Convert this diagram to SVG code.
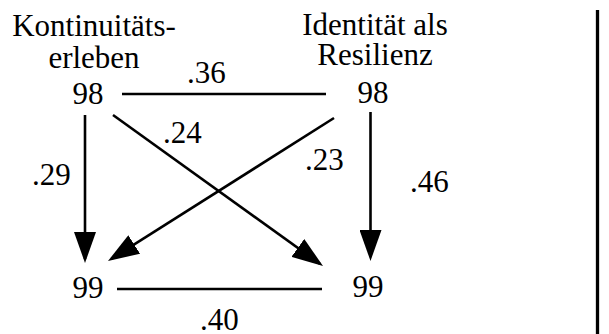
<svg xmlns="http://www.w3.org/2000/svg" width="609" height="334" viewBox="0 0 609 334">
<defs>
<marker id="ah" markerUnits="userSpaceOnUse" markerWidth="32" markerHeight="22" refX="27" refY="11" orient="auto" viewBox="0 0 32 22">
<path d="M0,0 L31,11 L0,22 z" fill="#000"/>
</marker>
</defs>
<rect width="609" height="334" fill="#fff"/>
<g id="node-kontinuitaet">
<text x="94" y="36" font-size="31" font-family="Liberation Serif" text-anchor="middle">Kontinuitäts-</text>
<text x="94" y="68" font-size="31" font-family="Liberation Serif" text-anchor="middle">erleben</text>
<text x="88" y="104" font-size="31" font-family="Liberation Serif" text-anchor="middle">98</text>
</g>
<g id="node-identitaet">
<text x="375" y="35" font-size="31" font-family="Liberation Serif" text-anchor="middle">Identität als</text>
<text x="375" y="65" font-size="31" font-family="Liberation Serif" text-anchor="middle">Resilienz</text>
<text x="373" y="103" font-size="31" font-family="Liberation Serif" text-anchor="middle">98</text>
</g>
<g id="node-left-bottom">
<text x="88" y="298" font-size="31" font-family="Liberation Serif" text-anchor="middle">99</text>
</g>
<g id="node-right-bottom">
<text x="368" y="297" font-size="31" font-family="Liberation Serif" text-anchor="middle">99</text>
</g>
<g id="labels">
<text x="187" y="83" font-size="31" font-family="Liberation Serif">.36</text>
<text x="163" y="143" font-size="31" font-family="Liberation Serif">.24</text>
<text x="305" y="170" font-size="31" font-family="Liberation Serif">.23</text>
<text x="32" y="185" font-size="31" font-family="Liberation Serif">.29</text>
<text x="410" y="192" font-size="31" font-family="Liberation Serif">.46</text>
<text x="200" y="330" font-size="31" font-family="Liberation Serif">.40</text>
</g>
<g id="connectors" stroke="#000" stroke-width="2.6" fill="none">
<line x1="122" y1="94" x2="326" y2="94"/>
<line x1="117" y1="289" x2="322" y2="289"/>
<line x1="85" y1="115" x2="85" y2="259" marker-end="url(#ah)"/>
<line x1="370.5" y1="112" x2="370.5" y2="257" marker-end="url(#ah)"/>
<line x1="113" y1="115" x2="319.75" y2="263.66" marker-end="url(#ah)"/>
<line x1="334" y1="118" x2="111.38" y2="258.86" marker-end="url(#ah)"/>
</g>
<line x1="597.5" y1="10" x2="597.5" y2="334" stroke="#000" stroke-width="3.3"/>
</svg>
